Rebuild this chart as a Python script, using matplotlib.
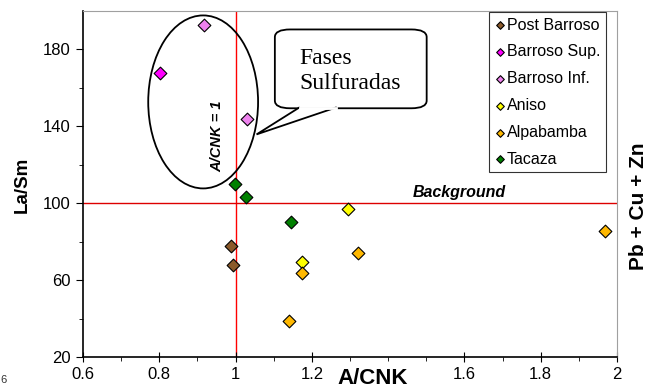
import matplotlib.pyplot as plt
from matplotlib.patches import Ellipse, FancyBboxPatch, Polygon
from matplotlib.ticker import MultipleLocator

plt.rcParams['font.family'] = ['Liberation Sans', 'DejaVu Sans']

# data
groups = ['Post Barroso', 'Barroso Sup.', 'Barroso Inf.', 'Aniso', 'Alpabamba', 'Tacaza']
colors = ['#8B5A2B', '#FF00FF', '#EE82EE', '#FFFF00', '#FFB800', '#008000']
acnk = [
    [0.987, 0.993],
    [0.802],
    [0.917, 1.029],
    [1.173, 1.296],
    [1.173, 1.139, 1.322, 1.969],
    [0.998, 1.027, 1.145],
]
lasm = [
    [78, 68],
    [168],
    [192.5, 143.6],
    [69.4, 96.9],
    [63.6, 38.7, 74, 85.5],
    [110, 103, 90],
]
xticks = [0.6, 0.8, 1.0, 1.2, 1.6, 1.8, 2.0]
xticklabels = ['0.6', '0.8', '1', '1.2', '1.6', '1.8', '2']
yticks = [20, 60, 100, 140, 180]

fig = plt.figure(figsize=(6.53, 3.92), dpi=100)
ax = fig.add_axes([83 / 653, 1 - 357 / 392, (617 - 83) / 653, (357 - 11) / 392])

ax.axvline(1.0, color='red', lw=1, zorder=1)
ax.axhline(100, color='#DD0000', lw=1, zorder=1)

for name, c, xs, ys in zip(groups, colors, acnk, lasm):
    ax.scatter(xs, ys, marker='D', s=42, color=c, edgecolor='black', linewidth=0.8,
               label=name, zorder=3)

ax.set_xlim(0.6, 2.0)
ax.set_ylim(20, 200)
ax.xaxis.set_minor_locator(MultipleLocator(0.1))
ax.set_xticks(xticks)
ax.set_xticklabels(xticklabels)
ax.set_yticks(yticks)
ax.set_yticks([40, 80, 120, 160], minor=True)
ax.tick_params(axis='x', which='major', direction='inout', length=7, labelsize=12, pad=4)
ax.tick_params(axis='x', which='minor', direction='out', length=3)
ax.tick_params(axis='y', which='major', direction='out', length=5, labelsize=12, pad=4)
ax.tick_params(axis='y', which='minor', direction='out', length=3)

for s in ['top', 'right']:
    ax.spines[s].set_color('#A0A0A0')
for s in ['left', 'bottom']:
    ax.spines[s].set_color('black')
    ax.spines[s].set_linewidth(1.2)

fig.text(22 / 653, 1 - 185 / 392, 'La/Sm', fontsize=13.5, fontweight='bold',
         rotation=90, ha='center', va='center')
fig.text(373 / 653, 1 - 378 / 392, 'A/CNK', fontsize=16, fontweight='bold', ha='center', va='center')
fig.text(638 / 653, 1 - 206 / 392, 'Pb + Cu + Zn', fontsize=15, fontweight='bold',
         rotation=90, ha='center', va='center')
fig.text(0.0, 1 - 380 / 392, '6', fontsize=8, ha='left', va='center', color='#333333')

ax.text(0.953, 135, 'A/CNK = 1', rotation=90, fontsize=10.5, fontweight='bold', style='italic',
        ha='center', va='center')
ax.text(1.587, 105.5, 'Background', fontsize=11.5, fontweight='bold', style='italic',
        ha='center', va='center')

# ellipse around the sulphide phases
ax.add_patch(Ellipse((0.915, 152.7), 0.288, 90, fill=False, edgecolor='black', lw=1.3, zorder=2))

# callout
box = FancyBboxPatch((1.103, 149.4), 0.398, 41, boxstyle='round,pad=0,rounding_size=0.04',
                     mutation_aspect=100, facecolor='white', edgecolor='black', lw=1.3, zorder=2)
ax.add_patch(box)
tail = Polygon([(1.168, 149.9), (1.055, 135.8), (1.265, 149.9)], closed=False,
               facecolor='white', edgecolor='black', lw=1.3, zorder=2)
ax.add_patch(tail)
ax.plot([1.17, 1.263], [149.4, 149.4], color='white', lw=2, zorder=2.5)
ax.text(1.168, 168.6, 'Fases\nSulfuradas', fontsize=17, family='Liberation Serif',
        ha='left', va='center', linespacing=1.25, zorder=3)

leg = ax.legend(loc='upper right', bbox_to_anchor=(606 / 653, 1 - 12 / 392),
                bbox_transform=fig.transFigure, fontsize=11.5, frameon=True, fancybox=False,
                handletextpad=0.15, handlelength=0.6, borderpad=0.35, labelspacing=0.74,
                markerscale=0.6, borderaxespad=0)
leg.get_frame().set_edgecolor('black')
leg.get_frame().set_linewidth(0.8)

fig.savefig('out.png', dpi=100)
